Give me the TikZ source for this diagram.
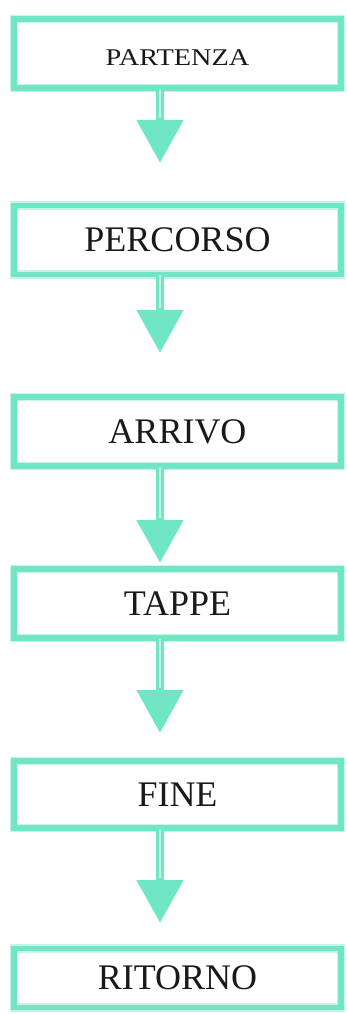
\documentclass[tikz,border=0pt]{standalone}
\usepackage{fontspec}
\setmainfont{Liberation Serif}
\usetikzlibrary{arrows.meta}
\definecolor{mint}{RGB}{112,230,196}
\definecolor{minthalo}{RGB}{196,246,230}
\tikzset{
  stage/.style={rectangle, draw=minthalo, double=mint, line width=1.6pt,
    double distance=5.5pt, minimum width=327pt, inner sep=0pt,
    font=\fontsize{36}{40}\selectfont, text=black!90},
  flow/.style={draw=mint, line width=8pt,
    -{Triangle[width=45pt,length=43pt]}},
  flowcore/.style={draw=minthalo, line width=2.5pt}
}
\begin{document}
\begin{tikzpicture}[x=1pt,y=-1pt]
\useasboundingbox (0,0) rectangle (346,1014);
% stages of the trip
\node[stage, minimum height=69pt] (b1) at (177.5,53.5)
  {\raisebox{-4pt}[\height][0pt]{\fontsize{24}{28}\selectfont\scalebox{1.18}[1]{PARTENZA}}};
\node[stage, minimum height=69pt] (b2) at (177.5,240) {PERCORSO};
\node[stage, minimum height=69pt] (b3) at (177.5,431.5) {ARRIVO};
\node[stage, minimum height=69pt] (b4) at (177.5,603.5) {TAPPE};
\node[stage, minimum height=67pt] (b5) at (177.5,794.5) {FINE};
\node[stage, minimum height=59pt] (b6) at (177.5,978) {RITORNO};
% arrow column, head bases and tip positions
\coordinate (ax) at (160,0);
\coordinate (t1) at (160,163);
\coordinate (t2) at (160,353);
\coordinate (t3) at (160,563);
\coordinate (t4) at (160,733);
\coordinate (t5) at (160,923);
\foreach \i in {1,...,5}{
  \draw[flow] (b\i.south -| ax) -- (t\i);
  \draw[flowcore] (b\i.south -| ax) -- ([yshift=45pt]t\i);
}
\end{tikzpicture}
\end{document}
